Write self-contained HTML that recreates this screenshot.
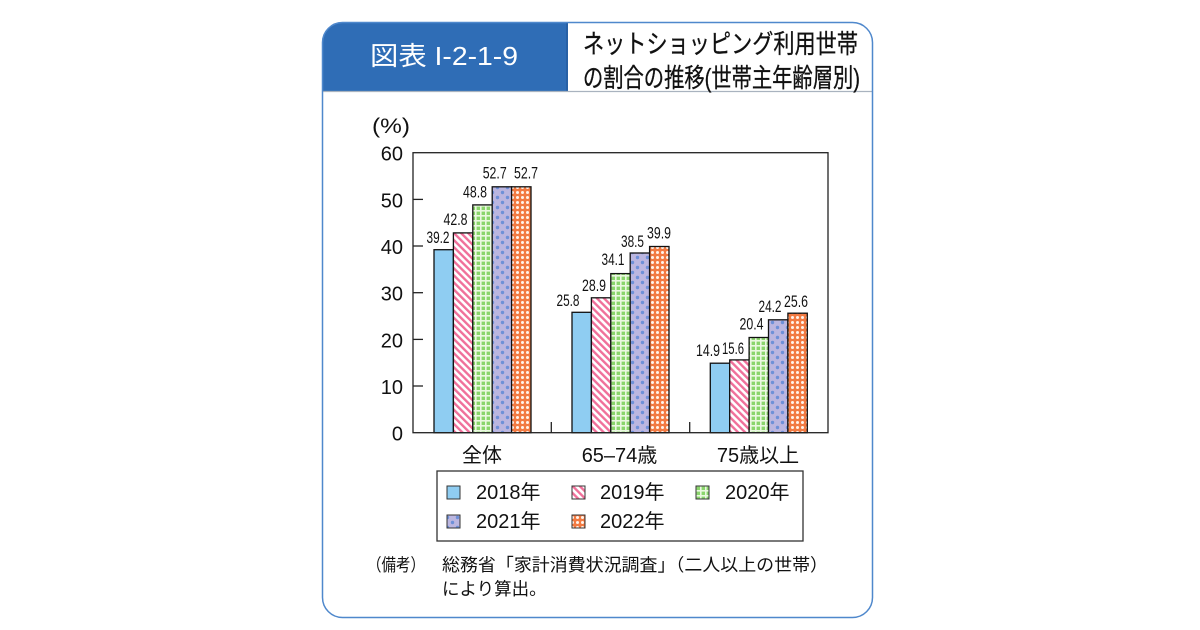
<!DOCTYPE html>
<html><head><meta charset="utf-8"><style>
html,body{margin:0;padding:0;background:#fff;}
svg{display:block;}
text{font-family:"Liberation Sans","Noto Sans CJK JP",sans-serif;}
</style></head><body>
<svg width="1200" height="630" viewBox="0 0 1200 630" xmlns="http://www.w3.org/2000/svg">
<defs>
  <clipPath id="frame"><rect x="322.5" y="22.5" width="550" height="595" rx="20" ry="20"/></clipPath>
  <pattern id="p19" width="5" height="5" patternUnits="userSpaceOnUse" patternTransform="rotate(-45)">
    <rect width="5" height="5" fill="#fff"/><rect width="2.4" height="5" fill="#f0709a"/>
  </pattern>
  <pattern id="p20" width="5" height="5" patternUnits="userSpaceOnUse">
    <rect width="5" height="5" fill="#8ad56c"/>
    <rect width="5" height="1.6" fill="#eaf8e0"/><rect width="1.6" height="5" fill="#eaf8e0"/>
  </pattern>
  <pattern id="p21" width="10" height="10" patternUnits="userSpaceOnUse">
    <rect width="10" height="10" fill="#bbb6e0"/>
    <circle cx="2.5" cy="2.5" r="1.7" fill="#6e90d8"/><circle cx="7.5" cy="7.5" r="1.7" fill="#6e90d8"/>
  </pattern>
  <pattern id="p22" width="5" height="5" patternUnits="userSpaceOnUse">
    <rect width="5" height="5" fill="#f27a42"/><circle cx="2.5" cy="2.5" r="1.5" fill="#fff3ea"/>
  </pattern>
</defs>

<!-- frame -->
<g clip-path="url(#frame)">
  <rect x="322" y="22" width="246" height="70" fill="#2f6db6"/>
  <line x1="567" y1="22" x2="567" y2="92" stroke="#24599a" stroke-width="1.2"/>
</g>
<line x1="322" y1="91.5" x2="873" y2="91.5" stroke="#a9b3bf" stroke-width="1.2"/>
<rect x="322.5" y="22.5" width="550" height="595" rx="20" ry="20" fill="none" stroke="#4f88cc" stroke-width="1.5"/>

<text x="370" y="65" font-size="26" fill="#fff" textLength="148" lengthAdjust="spacingAndGlyphs">図表 I-2-1-9</text>
<text x="583" y="53" font-size="26" fill="#111" stroke="#111" stroke-width="0.3" textLength="275" lengthAdjust="spacingAndGlyphs">ネットショッピング利用世帯</text>
<text x="583" y="87" font-size="26" fill="#111" stroke="#111" stroke-width="0.3" textLength="277" lengthAdjust="spacingAndGlyphs">の割合の推移(世帯主年齢層別)</text>

<!-- axis labels -->
<text x="391" y="133" font-size="21" text-anchor="middle" fill="#111" textLength="38" lengthAdjust="spacingAndGlyphs">(%)</text>
<g font-size="20" text-anchor="end" fill="#111">
  <text x="403" y="160.7">60</text>
  <text x="403" y="207.4">50</text>
  <text x="403" y="254">40</text>
  <text x="403" y="300.7">30</text>
  <text x="403" y="347.4">20</text>
  <text x="403" y="394">10</text>
  <text x="403" y="440.7">0</text>
</g>

<!-- bars -->
<g stroke="#111" stroke-width="1.3">
  <rect x="434" y="249.7" width="19.4" height="183" fill="#8fcdf2"/>
  <rect x="453.4" y="232.9" width="19.4" height="199.8" fill="url(#p19)"/>
  <rect x="472.8" y="204.9" width="19.4" height="227.8" fill="url(#p20)"/>
  <rect x="492.2" y="186.8" width="19.4" height="245.9" fill="url(#p21)"/>
  <rect x="511.6" y="186.8" width="19.4" height="245.9" fill="url(#p22)"/>
  <rect x="572" y="312.3" width="19.4" height="120.4" fill="#8fcdf2"/>
  <rect x="591.4" y="297.8" width="19.4" height="134.9" fill="url(#p19)"/>
  <rect x="610.8" y="273.6" width="19.4" height="159.1" fill="url(#p20)"/>
  <rect x="630.2" y="253" width="19.4" height="179.7" fill="url(#p21)"/>
  <rect x="649.6" y="246.5" width="19.4" height="186.2" fill="url(#p22)"/>
  <rect x="710.3" y="363.2" width="19.4" height="69.5" fill="#8fcdf2"/>
  <rect x="729.7" y="359.9" width="19.4" height="72.8" fill="url(#p19)"/>
  <rect x="749.1" y="337.5" width="19.4" height="95.2" fill="url(#p20)"/>
  <rect x="768.5" y="319.8" width="19.4" height="112.9" fill="url(#p21)"/>
  <rect x="787.9" y="313.2" width="19.4" height="119.5" fill="url(#p22)"/>
</g>

<!-- plot box & ticks -->
<g stroke="#222" stroke-width="1.3" fill="none">
  <rect x="413" y="152.7" width="415" height="280"/>
  <line x1="413" y1="199.4" x2="423" y2="199.4"/>
  <line x1="413" y1="246" x2="423" y2="246"/>
  <line x1="413" y1="292.7" x2="423" y2="292.7"/>
  <line x1="413" y1="339.4" x2="423" y2="339.4"/>
  <line x1="413" y1="386" x2="423" y2="386"/>
  <line x1="551.3" y1="422" x2="551.3" y2="432.7"/>
  <line x1="689.7" y1="422" x2="689.7" y2="432.7"/>
</g>

<!-- value labels -->
<g font-size="17" text-anchor="middle" fill="#111">
  <text x="438" y="243" textLength="23" lengthAdjust="spacingAndGlyphs">39.2</text>
  <text x="455.5" y="225" textLength="24" lengthAdjust="spacingAndGlyphs">42.8</text>
  <text x="475" y="197.3" textLength="24" lengthAdjust="spacingAndGlyphs">48.8</text>
  <text x="494.7" y="178.3" textLength="24" lengthAdjust="spacingAndGlyphs">52.7</text>
  <text x="526" y="178.3" textLength="24" lengthAdjust="spacingAndGlyphs">52.7</text>
  <text x="568" y="306" textLength="23" lengthAdjust="spacingAndGlyphs">25.8</text>
  <text x="594" y="291" textLength="24" lengthAdjust="spacingAndGlyphs">28.9</text>
  <text x="613" y="265" textLength="23" lengthAdjust="spacingAndGlyphs">34.1</text>
  <text x="632.5" y="247" textLength="23" lengthAdjust="spacingAndGlyphs">38.5</text>
  <text x="659" y="238.5" textLength="24" lengthAdjust="spacingAndGlyphs">39.9</text>
  <text x="708" y="356" textLength="24" lengthAdjust="spacingAndGlyphs">14.9</text>
  <text x="733" y="354" textLength="22" lengthAdjust="spacingAndGlyphs">15.6</text>
  <text x="751.5" y="329.5" textLength="24" lengthAdjust="spacingAndGlyphs">20.4</text>
  <text x="770" y="312" textLength="23" lengthAdjust="spacingAndGlyphs">24.2</text>
  <text x="796" y="307" textLength="24" lengthAdjust="spacingAndGlyphs">25.6</text>
</g>

<!-- category labels -->
<g font-size="20" text-anchor="middle" fill="#111">
  <text x="482" y="462">全体</text>
  <text x="619.5" y="462">65‒74歳</text>
  <text x="758" y="462">75歳以上</text>
</g>

<!-- legend -->
<rect x="437" y="471" width="366" height="70" fill="none" stroke="#333" stroke-width="1.3"/>
<g stroke="#333" stroke-width="1">
  <rect x="447" y="486" width="13" height="13" fill="#8fcdf2"/>
  <rect x="572" y="486" width="13" height="13" fill="url(#p19)"/>
  <rect x="696" y="486" width="13" height="13" fill="url(#p20)"/>
  <rect x="447" y="515" width="13" height="13" fill="url(#p21)"/>
  <rect x="572" y="515" width="13" height="13" fill="url(#p22)"/>
</g>
<g font-size="20" fill="#111">
  <text x="476" y="499">2018年</text>
  <text x="600" y="499">2019年</text>
  <text x="725" y="499">2020年</text>
  <text x="476" y="528">2021年</text>
  <text x="600" y="528">2022年</text>
</g>

<!-- footer -->
<g font-size="17.5" fill="#111">
  <text x="367" y="571" textLength="58" lengthAdjust="spacingAndGlyphs">（備考）</text>
  <text x="442" y="571" textLength="386" lengthAdjust="spacingAndGlyphs">総務省「家計消費状況調査」（二人以上の世帯）</text>
  <text x="442" y="595">により算出。</text>
</g>
</svg>
</body></html>
